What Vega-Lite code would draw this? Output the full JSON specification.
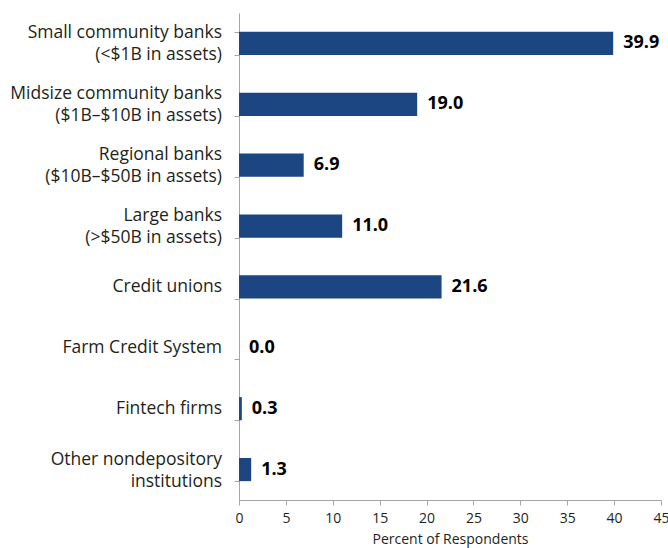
{
  "$schema": "https://vega.github.io/schema/vega-lite/v6.json",
  "autosize": {"type": "none"},
  "padding": {"left": 239, "top": 13, "right": 7, "bottom": 48},
  "width": 422,
  "height": 487,
  "background": "white",
  "config": {"view": {"stroke": null}, "font": "Open Sans"},
  "data": {"values": [
    {"category": "Small community banks|(<$1B in assets)", "value": 39.9},
    {"category": "Midsize community banks|($1B–$10B in assets)", "value": 19.0},
    {"category": "Regional banks|($10B–$50B in assets)", "value": 6.9},
    {"category": "Large banks|(>$50B in assets)", "value": 11.0},
    {"category": "Credit unions", "value": 21.6},
    {"category": "Farm Credit System", "value": 0.0},
    {"category": "Fintech firms", "value": 0.3},
    {"category": "Other nondepository|institutions", "value": 1.3}
  ]},
  "encoding": {
    "y": {
      "field": "category", "type": "nominal",
      "sort": ["Small community banks|(<$1B in assets)", "Midsize community banks|($1B–$10B in assets)", "Regional banks|($10B–$50B in assets)", "Large banks|(>$50B in assets)", "Credit unions", "Farm Credit System", "Fintech firms", "Other nondepository|institutions"],
      "scale": {"paddingInner": 0.62, "paddingOuter": 0.31},
      "axis": {
        "title": null, "labels": false,
        "tickBand": "extent", "tickSize": 5,
        "domainColor": "#a6a6a6", "tickColor": "#a6a6a6"
      }
    },
    "x": {
      "field": "value", "type": "quantitative",
      "scale": {"domain": [0, 45], "nice": false},
      "axis": {
        "title": "Percent of Respondents", "values": [0,5,10,15,20,25,30,35,40,45],
        "grid": false, "tickSize": 5, "labelPadding": 6, "labelFontSize": 14,
        "titleFontSize": 14, "titleFontWeight": "normal", "titleColor": "#231f20",
        "labelColor": "#231f20", "domainColor": "#a6a6a6", "tickColor": "#a6a6a6",
        "titlePadding": 7, "labelFlush": false
      }
    }
  },
  "layer": [
    {"mark": {"type": "bar", "color": "#1c4682"}},
    {"mark": {"type": "text", "align": "left", "dx": 10, "fontSize": 18, "fontWeight": "bold", "color": "#000000"},
     "encoding": {"text": {"field": "value", "type": "quantitative", "format": ".1f"}}},
    {"transform": [{"filter": "indexof(datum.category, '|') >= 0"}],
     "mark": {"type": "text", "align": "right", "baseline": "middle", "dx": -17, "dy": -10, "lineBreak": "|", "lineHeight": 22, "fontSize": 17.5, "color": "#231f20"},
     "encoding": {"x": {"datum": 0}, "text": {"field": "category", "type": "nominal"}}},
    {"transform": [{"filter": "indexof(datum.category, '|') < 0"}],
     "mark": {"type": "text", "align": "right", "baseline": "middle", "dx": -17, "fontSize": 17.5, "color": "#231f20"},
     "encoding": {"x": {"datum": 0}, "text": {"field": "category", "type": "nominal"}}}
  ]
}
